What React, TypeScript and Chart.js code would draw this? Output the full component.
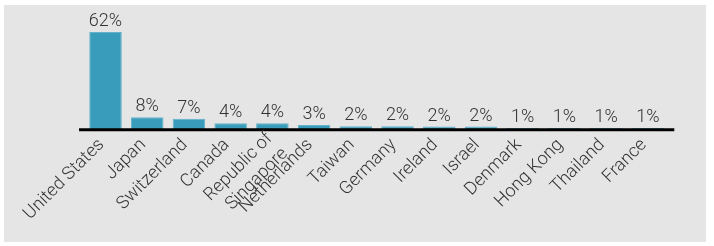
import React, { useEffect, useRef } from "react";
import { Chart, registerables } from "chart.js";

Chart.register(...registerables);

const countries: (string | string[])[] = [
  "United States",
  "Japan",
  "Switzerland",
  "Canada",
  ["Republic of", "Singapore"],
  "Netherlands",
  "Taiwan",
  "Germany",
  "Ireland",
  "Israel",
  "Denmark",
  "Hong Kong",
  "Thailand",
  "France",
];

const shares = [62, 7.8, 6.9, 3.9, 3.9, 2.9, 2.0, 2.0, 1.9, 1.9, 1.0, 0.9, 0.9, 0.9];

const BAR_COLOR = "#3a9cbb";
const BAR_EDGE = "#62b2cb";
const TEXT_COLOR = "#333333";
const TICK_FONT_SIZE = 18;
const TICK_PADDING = 5;
const TICK_LABEL_OFFSET = -4;

const valueLabels = {
  id: "valueLabels",
  afterDatasetsDraw(chart: any) {
    const ctx = chart.ctx;
    const meta = chart.getDatasetMeta(0);
    ctx.save();
    ctx.font = "300 18px Roboto";
    ctx.fillStyle = TEXT_COLOR;
    ctx.textAlign = "center";
    ctx.textBaseline = "alphabetic";
    meta.data.forEach((el: any, i: number) => {
      const v = chart.data.datasets[0].data[i] as number;
      ctx.fillText(Math.round(v) + "%", el.x, el.y - 6);
    });
    ctx.restore();
  },
};

// multi-line tick labels centred around the tick anchor
const multiLineTicks = {
  id: "multiLineTicks",
  afterDraw(chart: any) {
    const ctx = chart.ctx;
    const xs = chart.scales.x;
    const lh = TICK_FONT_SIZE * 1.2;
    countries.forEach((lab, i) => {
      if (!Array.isArray(lab)) return;
      const px = xs.getPixelForTick(i) + TICK_LABEL_OFFSET;
      const py = xs.top + TICK_PADDING;
      ctx.save();
      ctx.translate(px, py);
      ctx.rotate(-Math.PI / 4);
      ctx.font = `300 ${TICK_FONT_SIZE}px Roboto`;
      ctx.fillStyle = TEXT_COLOR;
      ctx.textAlign = "right";
      ctx.textBaseline = "middle";
      const n = lab.length;
      lab.forEach((line, j) => {
        ctx.fillText(line, 0, lh / 2 + (j - (n - 1) / 2) * lh + 2);
      });
      ctx.restore();
    });
  },
};

const baseLine = {
  id: "baseLine",
  afterDatasetsDraw(chart: any) {
    const ctx = chart.ctx;
    const y = chart.scales.y.getPixelForValue(0);
    const { left, right } = chart.chartArea;
    ctx.save();
    ctx.strokeStyle = "#000000";
    ctx.lineWidth = 3;
    ctx.beginPath();
    ctx.moveTo(left - 5.6, y + 0.3);
    ctx.lineTo(right + 5.6, y + 0.3);
    ctx.stroke();
    ctx.restore();
  },
};

export default function App() {
  const ref = useRef<HTMLCanvasElement>(null);

  useEffect(() => {
    document.body.style.margin = "0";
    const chart = new Chart(ref.current!, {
      type: "bar",
      data: {
        labels: countries as any,
        datasets: [
          {
            data: shares,
            backgroundColor: BAR_COLOR,
            borderColor: BAR_EDGE,
            borderWidth: 1,
            categoryPercentage: 1,
            barPercentage: 0.78,
          },
        ],
      },
      options: {
        responsive: false,
        animation: false,
        events: [],
        layout: { padding: { left: 84.65, right: 45.3, top: 32, bottom: 0 } },
        plugins: {
          legend: { display: false },
          tooltip: { enabled: false },
          title: { display: false },
        },
        scales: {
          x: {
            grid: { display: false, drawTicks: false },
            border: { display: false },
            afterFit: (s: any) => {
              s.height = 116.5;
            },
            ticks: {
              autoSkip: false,
              minRotation: 45,
              maxRotation: 45,
              padding: TICK_PADDING,
              labelOffset: TICK_LABEL_OFFSET,
              color: (c: any) =>
                Array.isArray(countries[c.index]) ? "rgba(0,0,0,0)" : TEXT_COLOR,
              font: { family: "Roboto", size: TICK_FONT_SIZE, weight: "300" as any },
            },
          },
          y: {
            display: false,
            min: 0,
            max: 62,
          },
        },
      },
      plugins: [valueLabels, baseLine, multiLineTicks],
    });
    return () => chart.destroy();
  }, []);

  return (
    <div style={{ position: "relative", width: 714, height: 246, background: "#ffffff", overflow: "hidden" }}>
      <div
        style={{
          position: "absolute",
          left: 4,
          top: 5,
          width: 702,
          height: 237,
          background: "#e5e5e5",
        }}
      />
      <canvas
        ref={ref}
        width={714}
        height={246}
        style={{ position: "absolute", left: 0, top: 0, width: 714, height: 246 }}
      />
    </div>
  );
}
